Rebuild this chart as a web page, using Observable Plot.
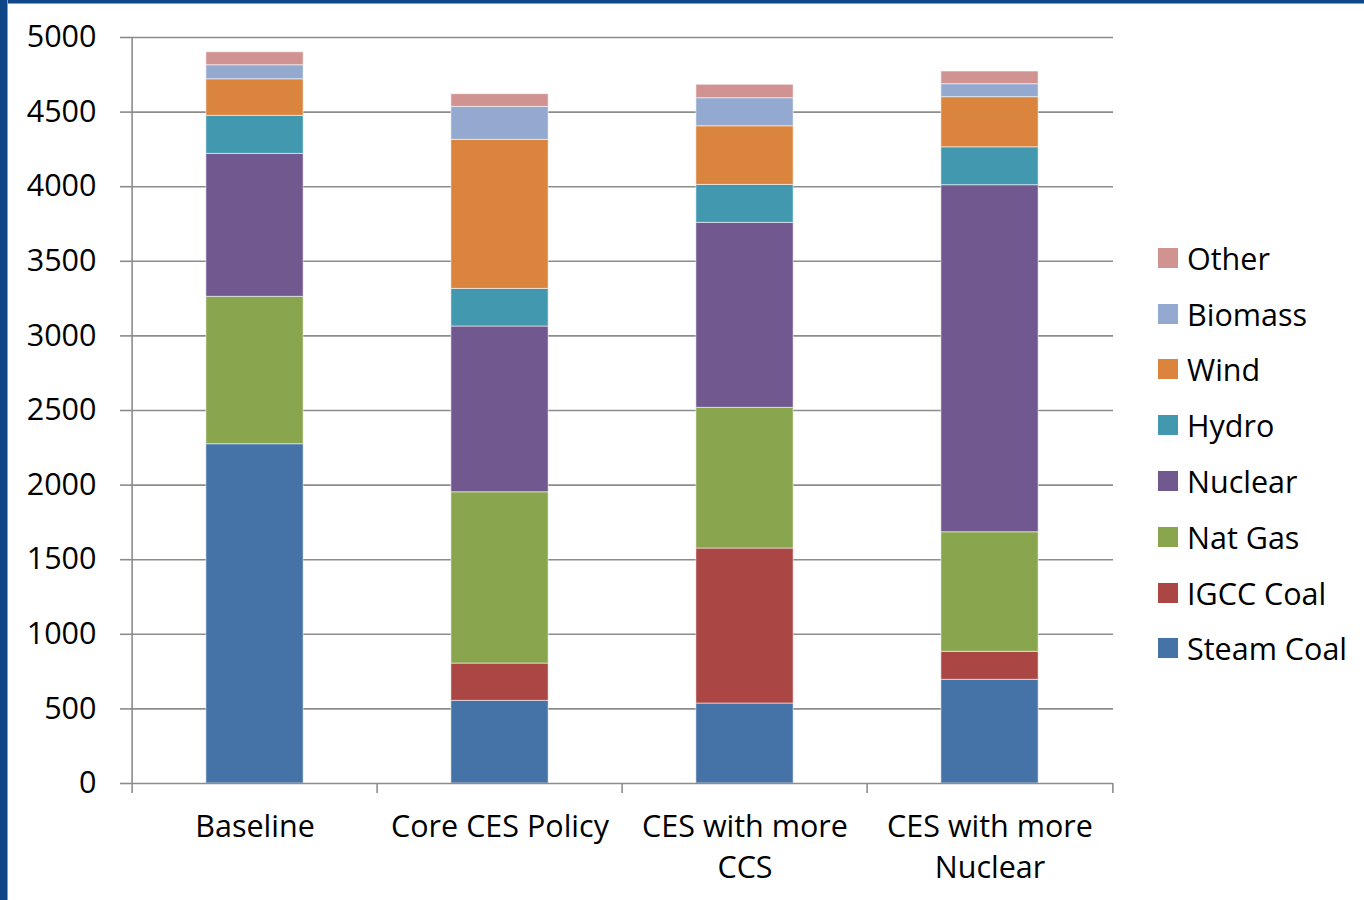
<!DOCTYPE html>
<html>
<head>
<meta charset="utf-8">
<script src="https://cdn.jsdelivr.net/npm/d3@7"></script>
<script src="https://cdn.jsdelivr.net/npm/@observablehq/plot@0.6"></script>
<style>
  html, body { margin: 0; padding: 0; background: #ffffff; }
  #wrap { position: relative; width: 1364px; height: 900px; overflow: hidden; background: #fff; font-family: "Open Sans", sans-serif; }
  #chart { position: absolute; left: 0; top: 0; }
  #topbar { position: absolute; left: 0; top: 0; width: 1364px; height: 3px; background: #0f4688; border-bottom: 1px solid #9a9a9a; }
  #leftbar { position: absolute; left: 0; top: 0; width: 7px; height: 900px; background: #0f4688; border-right: 1px solid #9a9a9a; }
  #legend { position: absolute; left: 1158px; top: 230px; }
  .item { display: flex; align-items: center; height: 55.8px; font-size: 30.5px; color: #000; }
  .sw { width: 20px; height: 20px; margin-right: 9px; flex: none; }
</style>
</head>
<body>
<div id="wrap">
  <div id="chart"></div>
  <div id="legend"></div>
  <div id="topbar"></div>
  <div id="leftbar"></div>
</div>
<script>
// ---- data ----
const categories = ["Baseline", "Core CES Policy", "CES with more CCS", "CES with more Nuclear"];
const categoryLabels = ["Baseline", "Core CES Policy", "CES with more\nCCS", "CES with more\nNuclear"];
const seriesNames = ["Steam Coal", "IGCC Coal", "Nat Gas", "Nuclear", "Hydro", "Wind", "Biomass", "Other"];
const seriesColors = ["#4572a7", "#aa4643", "#89a54e", "#71588f", "#4198af", "#db843d", "#93a9cf", "#d19392"];
const steamCoal = [2274, 554, 536, 695];
const igccCoal  = [0, 250, 1039, 188];
const natGas    = [988, 1148, 943, 801];
const nuclear   = [958, 1111, 1240, 2326];
const hydro     = [255, 252, 254, 254];
const wind      = [245, 999, 393, 336];
const biomass   = [94, 221, 188, 87];
const other     = [87, 85, 90, 85];
const yTicks = [0, 500, 1000, 1500, 2000, 2500, 3000, 3500, 4000, 4500, 5000];

const seriesValues = [steamCoal, igccCoal, natGas, nuclear, hydro, wind, biomass, other];
const rows = [];
seriesNames.forEach((s, si) => {
  categories.forEach((c, ci) => rows.push({category: c, series: s, value: seriesValues[si][ci]}));
});

// ---- layout ----
const W = 1364, H = 900;
const mL = 130, mR = 251, mT = 37, mB = 117;
const bw = (W - mL - mR) / categories.length;
const barW = 98;
const inset = (bw - barW) / 2;
const gray = "#8c8c8c";
const fs = 30.5;
const labelMap = new Map(categories.map((c, i) => [c, categoryLabels[i]]));

const chart = Plot.plot({
  width: W,
  height: H,
  marginLeft: mL,
  marginRight: mR,
  marginTop: mT,
  marginBottom: mB,
  style: {fontFamily: "Open Sans, sans-serif", fontSize: fs + "px", color: "#000", background: "transparent", overflow: "visible"},
  x: {domain: categories, padding: 0, axis: null},
  y: {domain: [0, 5000], axis: null},
  color: {domain: seriesNames, range: seriesColors},
  marks: [
    Plot.ruleY(yTicks.filter(d => d > 0), {stroke: gray, strokeWidth: 1.6}),
    Plot.barY(rows, {
      x: "category", y: "value", fill: "series", order: seriesNames,
      insetLeft: inset, insetRight: inset,
      stroke: "#ffffff", strokeOpacity: 0.55, strokeWidth: 1
    }),
    Plot.ruleY([0], {stroke: gray, strokeWidth: 1.6}),
    Plot.ruleX([categories[0]], {stroke: gray, strokeWidth: 1.6, dx: -bw / 2}),
    Plot.axisY({ticks: yTicks, tickSize: 10, tickPadding: 24, stroke: gray, strokeWidth: 1.6, fill: "#000", fontSize: fs, label: null, tickFormat: d => String(d)}),
    Plot.axisX({tickSize: 10, tickFormat: () => "", dx: -bw / 2, stroke: gray, strokeWidth: 1.6, label: null}),
    Plot.axisX([categories[categories.length - 1]], {tickSize: 10, tickFormat: () => "", dx: bw / 2, stroke: gray, strokeWidth: 1.6, label: null}),
    Plot.axisX({tickSize: 0, tickPadding: 25, fill: "#000", fontSize: fs, lineHeight: 1.33, label: null, tickFormat: d => labelMap.get(d)})
  ]
});
document.getElementById("chart").appendChild(chart);

// ---- legend (top to bottom: reverse of stacking order) ----
const legend = document.getElementById("legend");
seriesNames.slice().reverse().forEach(name => {
  const i = seriesNames.indexOf(name);
  const item = document.createElement("div");
  item.className = "item";
  const sw = document.createElement("span");
  sw.className = "sw";
  sw.style.background = seriesColors[i];
  const t = document.createElement("span");
  t.textContent = name;
  item.appendChild(sw);
  item.appendChild(t);
  legend.appendChild(item);
});
</script>
</body>
</html>
